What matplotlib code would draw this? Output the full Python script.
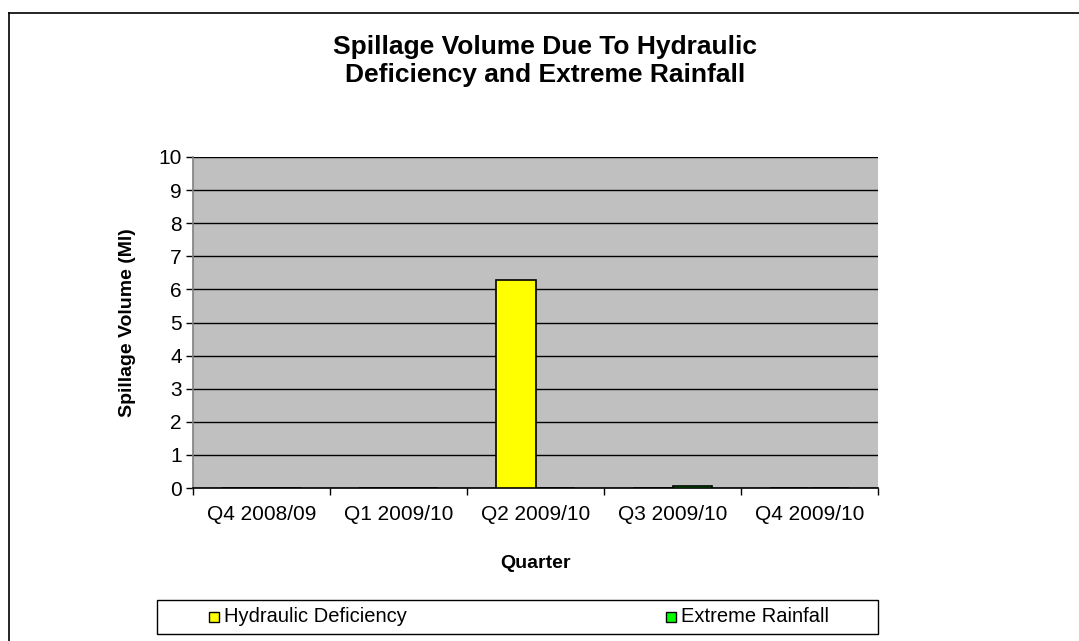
import matplotlib
matplotlib.use("Agg")
import matplotlib.pyplot as plt
from matplotlib.patches import Rectangle
from matplotlib.lines import Line2D
import numpy as np

plt.rcParams['font.family'] = ['Liberation Sans', 'DejaVu Sans']

quarters = ["Q4 2008/09", "Q1 2009/10", "Q2 2009/10", "Q3 2009/10", "Q4 2009/10"]
hydraulic = [0, 0, 6.27, 0, 0]
rainfall = [0, 0, 0, 0.05, 0]
series_names = ["Hydraulic Deficiency", "Extreme Rainfall"]
series_colors = ["#FFFF00", "#00FF00"]
y_ticks = list(range(0, 11))

W, H = 1079, 641
fig = plt.figure(figsize=(W / 100, H / 100), dpi=100)

def fx(px):
    return px / W

def fy(py):
    return 1 - py / H

# chart frame (left and top edges)
fig.add_artist(Line2D([fx(9), fx(9)], [fy(13), fy(H + 5)], color="black", lw=1.2))
fig.add_artist(Line2D([fx(9), fx(W + 5)], [fy(13), fy(13)], color="black", lw=1.2))

ax_l, ax_r, ax_t, ax_b = 193, 878, 157, 488
ax = fig.add_axes([fx(ax_l), fy(ax_b), fx(ax_r - ax_l), (ax_b - ax_t) / H])
ax.set_facecolor("#C0C0C0")

x = np.arange(len(quarters))
w = 0.286
b1 = ax.bar(x - w / 2, hydraulic, w, color=series_colors[0], edgecolor="black", linewidth=1.2, zorder=3)
b2 = ax.bar(x + w / 2, rainfall, w, color=series_colors[1], edgecolor="black", linewidth=1.2, zorder=3)

ax.set_xlim(-0.5, len(quarters) - 0.5)
ax.set_ylim(0, 10)
ax.set_yticks(y_ticks)
ax.yaxis.grid(True, color="black", linewidth=1.0, zorder=1)
ax.set_axisbelow(True)

ax.set_xticks(np.arange(-0.5, len(quarters), 1.0))
ax.set_xticklabels([])
ax.set_xticks(x, minor=True)
ax.set_xticklabels(quarters, minor=True)
ax.tick_params(axis="x", which="minor", length=0, labelsize=15, pad=12)
ax.tick_params(axis="x", which="major", length=5, width=1, color="black", direction="out")
ax.tick_params(axis="y", length=5, width=1, color="black", direction="out", labelsize=15, pad=3)

for s in ["top", "right"]:
    ax.spines[s].set_visible(False)
ax.spines["left"].set_color("#808080")
ax.spines["bottom"].set_color("black")
ax.spines["left"].set_linewidth(1.2)
ax.spines["bottom"].set_linewidth(1.2)

fig.text(fx(127), fy((ax_t + ax_b) / 2), "Spillage Volume (Ml)", rotation=90,
         ha="center", va="center", fontsize=14, fontweight="bold")
fig.text(fx(ax_l + (ax_r - ax_l) / 2), fy(563), "Quarter", ha="center", va="center",
         fontsize=14, fontweight="bold")
fig.text(fx(545), fy(61), "Spillage Volume Due To Hydraulic\nDeficiency and Extreme Rainfall",
         ha="center", va="center", fontsize=19, fontweight="bold", linespacing=1.22)

# legend box
fig.add_artist(Rectangle((fx(157), fy(634)), fx(878 - 157), (634 - 600) / H,
                         facecolor="white", edgecolor="black", lw=1.0, transform=fig.transFigure))
legend_pos = [(214, 224), (671, 681)]
for (sq, tx), name, col in zip(legend_pos, series_names, series_colors):
    fig.add_artist(Rectangle((fx(sq - 5), fy(622)), fx(10), 10 / H, facecolor=col,
                             edgecolor="black", lw=1.0, transform=fig.transFigure))
    fig.text(fx(tx), fy(617), name, ha="left", va="center", fontsize=14.5)

fig.savefig("out.png", dpi=100)
